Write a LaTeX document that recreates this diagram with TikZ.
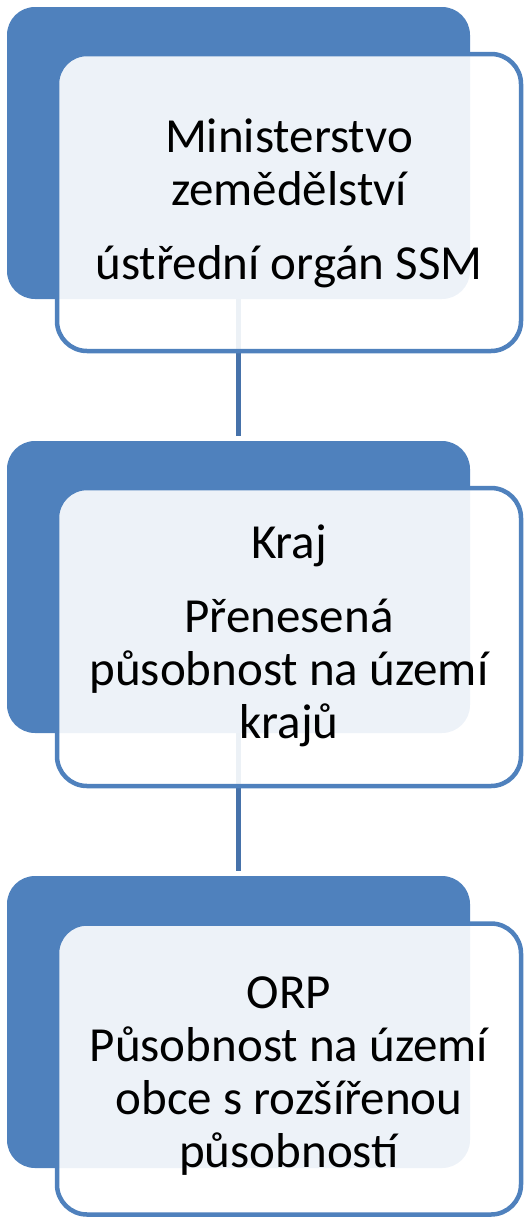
\documentclass[tikz,border=0pt]{standalone}
\usepackage{fontspec}
\setmainfont{Carlito}

\definecolor{tileblue}{RGB}{79,129,189}
\definecolor{linkblue}{RGB}{70,114,170}

\tikzset{
  backtile/.style={fill=tileblue, rounded corners=28pt, inner sep=0pt,
    minimum width=463pt, minimum height=292pt},
  fronttile/.style={draw=tileblue, line width=4.5pt, fill=white, fill opacity=0.9,
    rounded corners=30pt, inner sep=0pt, minimum width=464pt},
  tiletext/.style={align=center, inner sep=0pt, font=\fontsize{49}{53}\selectfont},
  link/.style={draw=linkblue, line width=5pt}
}

\begin{document}
\begin{tikzpicture}[x=1pt, y=-1pt]
\useasboundingbox (0,0) rectangle (525,1218);
% dark tiles behind
\node[backtile] (back1) at (238.5, 153) {};
\node[backtile] (back2) at (238.5, 587) {};
\node[backtile] (back3) at (238.5, 1022) {};
% links between levels
\draw[link] (back1.south) -- ([yshift=5pt]back2.north);
\draw[link] (back2.south) -- ([yshift=5pt]back3.north);
% light tiles
\node[fronttile, minimum height=297pt] (ministry) at (289, 202.5) {};
\node[fronttile, minimum height=298pt] (region) at (289, 637) {};
\node[fronttile, minimum height=291pt] (orp) at (289, 1069) {};
% texts
\node[tiletext] (ministrytext) at ([yshift=-1pt]ministry.center)
  {Ministerstvo\\ zemědělství\\[21pt] ústřední orgán SSM};
\node[tiletext] (regiontext) at ([yshift=1pt]region.center)
  {Kraj\\[21pt] Přenesená\\ působnost na území\\ krajů};
\node[tiletext] (orptext) at ([yshift=-7pt]orp.center)
  {ORP\\ Působnost na území\\ obce s rozšířenou\\ působností};
\end{tikzpicture}
\end{document}
